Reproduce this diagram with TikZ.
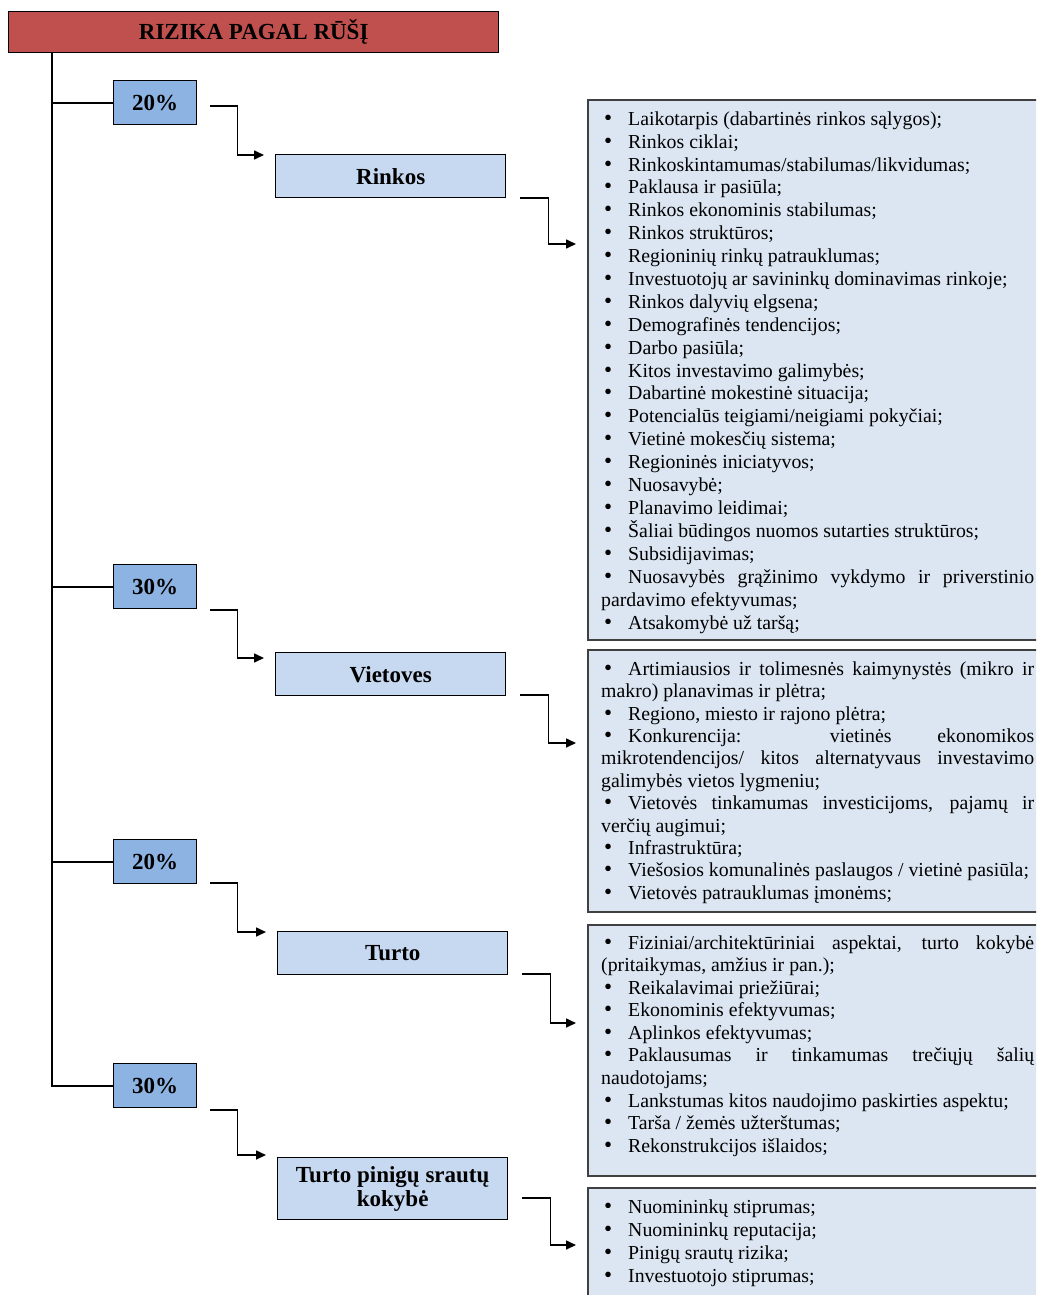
\documentclass[tikz,border=0pt]{standalone}
\usepackage{fontspec}
\setmainfont{Liberation Serif}
\usetikzlibrary{arrows.meta,positioning}

\definecolor{titlered}{HTML}{C0504D}
\definecolor{pctblue}{HTML}{8DB3E2}
\definecolor{catblue}{HTML}{C6D9F1}
\definecolor{panelblue}{HTML}{DCE6F2}
\definecolor{panelline}{HTML}{404040}

% bullet at the start of a list line
\newcommand*{\bul}{\hspace*{3pt}\makebox[24pt][l]{{\fontsize{23}{23}\selectfont\textbullet}}}
% strut for the first line of a list
\newcommand*{\firststrut}{\vrule height16pt width0pt depth0pt\relax}

\begin{document}
\begin{tikzpicture}[x=1pt,y=-1pt,
    titlebox/.style={draw=black,line width=1.4pt,fill=titlered,minimum width=490,minimum height=41,inner sep=0,font=\fontsize{23}{25}\selectfont\bfseries},
    pctbox/.style={draw=black,line width=1.4pt,fill=pctblue,minimum width=83,minimum height=44,inner sep=0,font=\fontsize{23}{25}\selectfont\bfseries},
    catbox/.style={draw=black,line width=1.4pt,fill=catblue,minimum width=230,minimum height=43,inner sep=0,align=center,font=\fontsize{23}{24}\selectfont\bfseries},
    panelbox/.style={draw=panelline,line width=2pt,fill=panelblue,minimum width=480,inner sep=0},
    paneltext/.style={text width=433,inner sep=0,align=justify,anchor=north west,
        font=\fontsize{19.8}{#1}\selectfont,
        execute at begin node={\tolerance=10000\relax\hyphenpenalty=10000\relax\exhyphenpenalty=10000\relax}},
    trunk/.style={line width=2pt},
    elbow/.style={line width=1.6pt,-{Triangle[length=10pt,width=9pt]}}]

    \useasboundingbox (0,0) rectangle (1036,1295);
    \clip (0,0) rectangle (1036,1295);
    \fill[white] (0,0) rectangle (1036,1295);

    \node[titlebox,anchor=north west] (title) at (8,11) {RIZIKA PAGAL RŪŠĮ};

    % shares ↓
    \node[pctbox,anchor=north west] (p1) at (113,80) {20\%};
    \node[pctbox,anchor=north west] (p2) at (113,564) {30\%};
    \node[pctbox,anchor=north west] (p3) at (113,839) {20\%};
    \node[pctbox,anchor=north west] (p4) at (113,1063) {30\%};

    % kinds ↓
    \node[catbox,anchor=north west] (c1) at (275,154) {Rinkos};
    \node[catbox,anchor=north west] (c2) at (275,652) {Vietoves};
    \node[catbox,anchor=north west] (c3) at (277,931) {Turto};
    \node[catbox,anchor=north west,minimum height=62] (c4) at (277,1157) {Turto pinigų srautų\\kokybė};

    % lists ↓
    \node[panelbox,anchor=north west,minimum height=540] (k1) at (587,99) {};
    \node[panelbox,anchor=north west,minimum height=262] (k2) at (587,649) {};
    \node[panelbox,anchor=north west,minimum height=251] (k3) at (587,924) {};
    \node[panelbox,anchor=north west,minimum height=130] (k4) at (587,1187) {};

    \node[paneltext=22.9] (t1) at ([shift={(14,10)}]k1.north west) {%
        \bul\firststrut Laikotarpis (dabartinės rinkos sąlygos);\par
        \bul Rinkos ciklai;\par
        \bul Rinkoskintamumas/stabilumas/likvidumas;\par
        \bul Paklausa ir pasiūla;\par
        \bul Rinkos ekonominis stabilumas;\par
        \bul Rinkos struktūros;\par
        \bul Regioninių rinkų patrauklumas;\par
        \bul Investuotojų ar savininkų dominavimas rinkoje;\par
        \bul Rinkos dalyvių elgsena;\par
        \bul Demografinės tendencijos;\par
        \bul Darbo pasiūla;\par
        \bul Kitos investavimo galimybės;\par
        \bul Dabartinė mokestinė situacija;\par
        \bul Potencialūs teigiami/neigiami pokyčiai;\par
        \bul Vietinė mokesčių sistema;\par
        \bul Regioninės iniciatyvos;\par
        \bul Nuosavybė;\par
        \bul Planavimo leidimai;\par
        \bul Šaliai būdingos nuomos sutarties struktūros;\par
        \bul Subsidijavimas;\par
        \bul Nuosavybės grąžinimo vykdymo ir priverstinio\linebreak pardavimo efektyvumas;\par
        \bul Atsakomybė už taršą;\par};

    \node[paneltext=22.4] (t2) at ([shift={(14,10)}]k2.north west) {%
        \bul\firststrut Artimiausios ir tolimesnės kaimynystės (mikro ir\linebreak makro) planavimas ir plėtra;\par
        \bul Regiono, miesto ir rajono plėtra;\par
        \bul Konkurencija: vietinės ekonomikos\linebreak mikrotendencijos/ kitos alternatyvaus investavimo\linebreak galimybės vietos lygmeniu;\par
        \bul Vietovės tinkamumas investicijoms, pajamų ir\linebreak verčių augimui;\par
        \bul Infrastruktūra;\par
        \bul Viešosios komunalinės paslaugos / vietinė pasiūla;\par
        \bul Vietovės patrauklumas įmonėms;\par};

    \node[paneltext=22.55] (t3) at ([shift={(14,9)}]k3.north west) {%
        \bul\firststrut Fiziniai/architektūriniai aspektai, turto kokybė\linebreak (pritaikymas, amžius ir pan.);\par
        \bul Reikalavimai priežiūrai;\par
        \bul Ekonominis efektyvumas;\par
        \bul Aplinkos efektyvumas;\par
        \bul Paklausumas ir tinkamumas trečiųjų šalių\linebreak naudotojams;\par
        \bul Lankstumas kitos naudojimo paskirties aspektu;\par
        \bul Tarša / žemės užterštumas;\par
        \bul Rekonstrukcijos išlaidos;\par};

    \node[paneltext=23] (t4) at ([shift={(14,10)}]k4.north west) {%
        \bul\firststrut Nuomininkų stiprumas;\par
        \bul Nuomininkų reputacija;\par
        \bul Pinigų srautų rizika;\par
        \bul Investuotojo stiprumas;\par};

    % trunk and branches ↓
    \foreach \i in {1,...,4}
        \draw[trunk] ([xshift=44pt]title.south west) |- (p\i.west);

    % elbow arrows ↓
    \foreach \i/\a/\b/\c/\d in {1/26/1/44/145, 2/46/6/43/94, 3/44/1/43/99, 4/47/-2/41/58}
    {
        \draw[elbow] ([shift={(13,\a)}]p\i.north east) -- ++(27,0) |- ([shift={(-11,\b)}]c\i.north west);
        \draw[elbow] ([shift={(14,\c)}]c\i.north east) -- ++(28,0) |- ([shift={(-11,\d)}]k\i.north west);
    }

\end{tikzpicture}
\end{document}
